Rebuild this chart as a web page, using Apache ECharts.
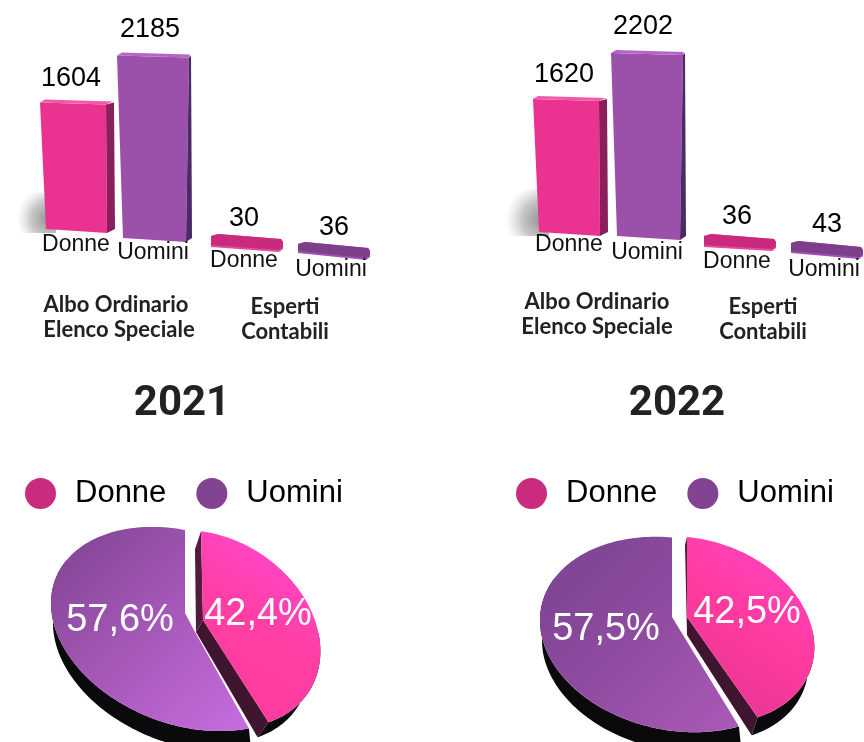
<!DOCTYPE html>
<html><head><meta charset="utf-8">
<style>html,body{margin:0;padding:0;background:#fff;overflow:hidden}#c{width:864px;height:742px}</style>
<script src="https://cdn.jsdelivr.net/npm/echarts@6/dist/echarts.min.js"></script>
</head><body><div id="c"></div>
<script>
var years = ['2021', '2022'];
var categories = ['Albo Ordinario\nElenco Speciale', 'Esperti\nContabili'];
var genders = ['Donne', 'Uomini'];
var donne2021 = [1604, 30];
var uomini2021 = [2185, 36];
var donne2022 = [1620, 36];
var uomini2022 = [2202, 43];
var shareDonne2021 = 42.4, shareUomini2021 = 57.6;
var shareDonne2022 = 42.5, shareUomini2022 = 57.5;

var SANS = '"Liberation Sans", Arial, sans-serif';
var LinearGradient = echarts.graphic.LinearGradient;
var RadialGradient = echarts.graphic.RadialGradient;

/* ---------- 3D look of the bars (style only) ---------- */
var barStyle = [
  { // 2021
    Donne: [{dx:-42,top:0,bottom:231,vdx:-6,vy:-24,ny:245,sideT:8,sideB:5},{dx:-38,slab:[234,239,247,252],vdx:-3,vy:219,ny:261}],
    Uomini:[{dx:35,top:0,bottom:240,vdx:-4,vy:-26,ny:253,sideT:5,sideB:3},{dx:49,slab:[242,248,253,260],vdx:0,vy:228,ny:270}]
  },
  { // 2022
    Donne: [{dx:-27,top:0,bottom:234,vdx:-6,vy:-24,ny:245,sideT:8,sideB:5},{dx:-23,slab:[234,239,247,251],vdx:-3,vy:217,ny:262}],
    Uomini:[{dx:51,top:0,bottom:238,vdx:-5,vy:-26,ny:253,sideT:5,sideB:3},{dx:64,slab:[241,247,253,259],vdx:0,vy:225,ny:270}]
  }
];
var barColor = {
  Donne: {front:'#ea3391', side:'#8a1f5c', lip:'#f25aa8', slab:'#c92a7d', slabEdge:'#e24a9f', name:'#cb2b7f'},
  Uomini:{front:'#9b50a9', side:'#4b2a68', lip:'#b565c6', slab:'#7e3f8a', slabEdge:'#a050b6', name:'#824392'}
};

function barSeries(chartIdx, gender, values) {
  return {
    type: 'custom', name: gender, xAxisIndex: chartIdx, yAxisIndex: chartIdx,
    data: values.map(function (v, i) { return [i, v]; }),
    clip: false,
    itemStyle: {color: barColor[gender].name},
    renderItem: function (params, api) {
      var i = api.value(0), v = api.value(1);
      var st = barStyle[chartIdx][gender][i], col = barColor[gender];
      var p = api.coord([i, v]);
      var cx = p[0] + st.dx, L = cx - 37, kids = [];
      var poly = function (pts, fill, extra) {
        kids.push({type: 'polygon', shape: {points: pts}, style: Object.assign({fill: fill}, extra || {})});
      };
      var labelY;
      if (st.slab) {
        var s = st.slab, R = L + 73;
        poly([[L+1,s[2]],[L+1,s[0]+2],[L+8,s[0]],[R-2,s[1]],[R,s[1]+3],[R,s[3]-3],[R-4,s[3]]], col.slabEdge);
        poly([[L+1,s[2]-2],[L+1,s[0]+2],[L+8,s[0]],[R-2,s[1]],[R,s[1]+3],[R,s[3]-5],[R-4,s[3]-2]], col.slab);
        labelY = st.vy;
      } else {
        var T = p[1] + st.top, B = st.bottom, W = 75 - st.sideT;
        if (i === 0 && gender === 'Donne') {
          kids.push({type:'rect', shape:{x:L-30,y:T+90,width:46,height:B-T-88},
            style:{fill:new RadialGradient(0.85,0.65,0.8,[{offset:0,color:'rgba(105,105,105,0.75)'},{offset:0.55,color:'rgba(130,130,130,0.45)'},{offset:1,color:'rgba(180,180,180,0)'}])}});
        }
        var fr = W - st.sideT + 8;
        poly([[L,T],[L+fr-1,T+2],[L+W+st.sideT-st.sideB-3,B+2],[L+6,B-2]], col.front);
        poly([[L+fr-1,T+2],[L+W+st.sideT-1,T],[L+W+st.sideT,B-2],[L+W+st.sideT-st.sideB-3,B+2]], col.side);
        poly([[L,T],[L+5,T-3],[L+W+st.sideT-2,T-1],[L+fr-1,T+2]], col.lip);
        labelY = T + st.vy;
      }
      kids.push({type:'text', style:{text:String(v), x:cx+st.vdx, y:labelY, align:'center', verticalAlign:'middle', font:'27px '+SANS, fill:'#000'}});
      kids.push({type:'text', style:{text:gender, x:cx+(st.slab?-3:-1), y:st.ny, align:'center', verticalAlign:'middle', font:'23px '+SANS, fill:'#111'}});
      return {type:'group', children:kids};
    }
  };
}

/* ---------- tilted, exploded pies (style only) ---------- */
var pieStyle = [
  {
    Uomini:{E:[186,629],A:[135,1,25,99],notch:[185,613],apex:[195,632],depth:[2,20],
      grad:['#7e4490','#a558b8','#c86ce0'],label:[120,621]},
    Donne:{E:[210,629],A:[110,9,14.3,97.7],apex:[203,620],dTop:[-6,18],dApex:[-7,12],dEnd:[-11,15],
      grad:['#ff3a9c','#ff3ea4','#ff4ad8'],label:[258,615]}
  },
  {
    Uomini:{E:[675,634.5],A:[135,3,12,97],notch:null,apex:[672,617],depth:[2,20],
      grad:['#7a4290','#8f4ca0','#ab5ab8'],label:[606,630]},
    Donne:{E:[696,630],A:[118,9,10.1,92.9],apex:[687,617],dTop:[-2,8],dApex:[0,18],dEnd:[-6,18],
      grad:['#e0368e','#ff3a9e','#ff46cc'],label:[747,613]}
  }
];
function ell(S, t) {
  var c = Math.sin(t), s = -Math.cos(t);
  return [S.E[0] + S.A[0]*c + S.A[1]*s, S.E[1] + S.A[2]*c + S.A[3]*s];
}
function pieSeries(chartIdx, gender, share, total) {
  var S = pieStyle[chartIdx][gender];
  return {
    type:'custom', name:gender, coordinateSystem:'none', data:[[share]], clip:false,
    itemStyle:{color:barColor[gender].name},
    renderItem:function (params, api) {
      var v = api.value(0), sweep = v/total*2*Math.PI, kids = [], i, arc = [], n = 140;
      var isD = gender === 'Donne';
      var grad = new LinearGradient(0,isD?1:0,1,isD?0:1,
        [{offset:0,color:S.grad[0]},{offset:0.5,color:S.grad[1]},{offset:1,color:S.grad[2]}]);
      if (!isD) {
        for (i=0;i<=n;i++) arc.push(ell(S,-sweep*i/n));
        var d = S.depth, low = arc.slice(Math.floor(n*0.3));
        kids.push({type:'polygon',shape:{points:low.concat(low.map(function(q){return [q[0]+d[0],q[1]+d[1]];}).reverse())},style:{fill:'#0a0a0c'}});
        var pts = arc.slice(); pts.push(S.apex); if (S.notch) pts.push(S.notch);
        kids.push({type:'polygon',shape:{points:pts},style:{fill:grad}});
      } else {
        for (i=0;i<=n;i++) arc.push(ell(S,sweep*i/n));
        var last = arc[n], first = arc[0], a = S.apex;
        var tail = arc.slice(Math.floor(n*0.55));
        var e = S.dEnd;
        kids.push({type:'polygon',shape:{points:tail.concat(tail.map(function(q){return [q[0]+e[0],q[1]+e[1]];}).reverse())},style:{fill:'#0a0a0c'}});
        kids.push({type:'polygon',shape:{points:[first,a,[a[0]+S.dApex[0],a[1]+S.dApex[1]],[first[0]+S.dTop[0],first[1]+S.dTop[1]]]},style:{fill:'#521a3c'}});
        kids.push({type:'polygon',shape:{points:[a,last,[last[0]+e[0],last[1]+e[1]],[a[0]+S.dApex[0],a[1]+S.dApex[1]]]},style:{fill:'#3f1530'}});
        kids.push({type:'polygon',shape:{points:arc.concat([a])},style:{fill:grad}});
      }
      kids.push({type:'text',style:{text:v.toFixed(1).replace('.',',')+'%',x:S.label[0],y:S.label[1],align:'center',verticalAlign:'middle',font:'38px '+SANS,fill:'#fff'}});
      return {type:'group',children:kids};
    }
  };
}

/* ---------- axes ---------- */
var CAT_FONT = 'Lato';
function xAxis(idx, margin, pad, firstPad) {
  var base = {fontFamily:CAT_FONT,fontWeight:'bold',fontSize:22,lineHeight:25,color:'#222'};
  return {
    type:'category', gridIndex:idx, data:categories, position:'bottom',
    axisLine:{show:false}, axisTick:{show:false}, splitLine:{show:false},
    axisLabel:{
      interval:0, margin:margin,
      formatter:function (val, i) {
        return val.split('\n').map(function (t, k) {
          return '{' + (i ? 'b' : (k === 0 ? 'c' : 'a')) + '|' + t + '}';
        }).join('\n');
      },
      rich:{
        a:base,
        b:Object.assign({},base,{padding:[pad,0,0,0]}),
        c:Object.assign({},base,{padding:[0,firstPad,0,0]})
      }
    }
  };
}
function yAxis(idx) { return {type:'value',gridIndex:idx,min:0,max:2500,show:false}; }

var legendText = {fontFamily:SANS,fontSize:31,color:'#000',padding:[0,0,0,14]};
function legend(left) {
  return {left:left,top:478,padding:0,itemWidth:31,itemHeight:31,itemGap:30,icon:'circle',selectedMode:false,
    textStyle:legendText,
    data:[{name:genders[0],itemStyle:{color:barColor.Donne.name}},{name:genders[1],itemStyle:{color:barColor.Uomini.name}}]};
}

var option = {
  animation:false, backgroundColor:'#fff',
  title:[
    {text:years[0],left:177,top:378,textAlign:'center',textStyle:{fontFamily:'Roboto',fontWeight:'bold',fontSize:42,color:'#222'}},
    {text:years[1],left:672,top:378,textAlign:'center',textStyle:{fontFamily:'Roboto',fontWeight:'bold',fontSize:42,color:'#222'}}
  ],
  legend:[legend(25),legend(516)],
  grid:[
    {left:36,width:332,top:30,height:202},
    {left:514,width:332,top:29.5,height:197.5}
  ],
  xAxis:[xAxis(0,60,5,6),xAxis(1,62,11,0)],
  yAxis:[yAxis(0),yAxis(1)],
  series:[
    barSeries(0,'Donne',donne2021), barSeries(0,'Uomini',uomini2021),
    barSeries(1,'Donne',donne2022), barSeries(1,'Uomini',uomini2022),
    pieSeries(0,'Uomini',shareUomini2021,shareDonne2021+shareUomini2021),
    pieSeries(0,'Donne',shareDonne2021,shareDonne2021+shareUomini2021),
    pieSeries(1,'Uomini',shareUomini2022,shareDonne2022+shareUomini2022),
    pieSeries(1,'Donne',shareDonne2022,shareDonne2022+shareUomini2022)
  ]
};
echarts.init(document.getElementById('c'),null,{renderer:'canvas'}).setOption(option);
</script></body></html>
